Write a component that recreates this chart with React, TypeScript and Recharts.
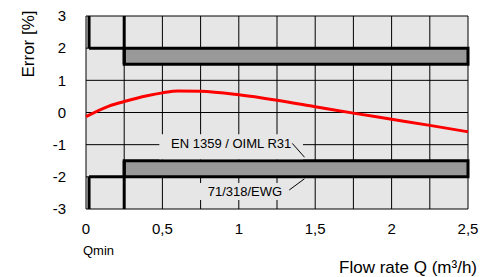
import React from "react";
import {
  ComposedChart,
  Line,
  XAxis,
  YAxis,
  CartesianGrid,
  ReferenceArea,
  ReferenceLine,
  ReferenceDot,
} from "recharts";

// measured meter error curve
const flowRate = [0, 0.15, 0.25, 0.4, 0.5, 0.6, 0.75, 1, 1.25, 1.5, 1.75, 2, 2.25, 2.5];
const errorPct = [-0.13, 0.2, 0.34, 0.52, 0.61, 0.67, 0.66, 0.55, 0.38, 0.18, -0.02, -0.21, -0.4, -0.6];

// axes
const xTicks = [0, 0.25, 0.5, 0.75, 1, 1.25, 1.5, 1.75, 2, 2.25, 2.5];
const xLabelTicks = [0, 0.5, 1, 1.5, 2, 2.5];
const yTicks = [-3, -2, -1, 0, 1, 2, 3];

// tolerance limits
const qMinOld = 0.02;
const qMinNew = 0.25;
const upperBand = [1.5, 2];
const lowerBand = [-2, -1.5];

const data = flowRate.map((q, i) => ({ q, err: errorPct[i] }));

const FONT = "'Liberation Sans', Arial, Helvetica, sans-serif";
const PLOT_BG = "#e6e6e6";

const fmt = (v: number) => String(v).replace(".", ",");

const XTick = (props: any) => {
  const { x, y, payload } = props;
  const v = payload.value;
  if (!xLabelTicks.includes(v)) return null;
  return (
    <g>
      <text x={x} y={y + 25} textAnchor="middle" fontSize={15} fill="#000" fontFamily={FONT}>
        {fmt(v)}
      </text>
      {v === 0 && (
        <text x={x - 3} y={y + 46} textAnchor="start" fontSize={13} fill="#000" fontFamily={FONT}>
          Qmin
        </text>
      )}
    </g>
  );
};

export default function App() {
  return (
    <div style={{ position: "absolute", left: 0, top: 0, background: "#fff", fontFamily: FONT }}>
      <ComposedChart
        width={491}
        height={277}
        data={data}
        margin={{ top: 16, right: 23, bottom: 0, left: 0 }}
      >
        <CartesianGrid stroke="#000" strokeWidth={1} fill={PLOT_BG} fillOpacity={1} />
        <XAxis
          dataKey="q"
          type="number"
          domain={[0, 2.5]}
          ticks={xTicks}
          interval={0}
          height={68}
          axisLine={false}
          tickLine={false}
          tickSize={0}
          tickMargin={0}
          tick={<XTick />}
          label={{
            content: () => (
              <text x={477} y={273} textAnchor="end" fontSize={17} fill="#000" fontFamily={FONT}>
                Flow rate Q (m³/h)
              </text>
            ),
          }}
        />
        <YAxis
          type="number"
          domain={[-3, 3]}
          ticks={yTicks}
          interval={0}
          width={86}
          axisLine={false}
          tickLine={false}
          tickSize={0}
          tickMargin={20}
          tick={{ fill: "#000", fontSize: 15, fontFamily: FONT }}
          label={{
            content: () => (
              <text
                x={28}
                y={44}
                transform="rotate(-90 28 44)"
                textAnchor="middle"
                dominantBaseline="central"
                fontSize={17}
                fill="#000"
                fontFamily={FONT}
              >
                Error [%]
              </text>
            ),
          }}
        />

        {/* tolerance bands */}
        <ReferenceArea
          x1={qMinNew}
          x2={2.5}
          y1={upperBand[0]}
          y2={upperBand[1]}
          fill="#999999"
          fillOpacity={1}
          stroke="#000"
          strokeWidth={3}
        />
        <ReferenceArea
          x1={qMinNew}
          x2={2.5}
          y1={lowerBand[0]}
          y2={lowerBand[1]}
          fill="#999999"
          fillOpacity={1}
          stroke="#000"
          strokeWidth={3}
        />

        {/* old limits (71/318/EWG) and Qmin step */}
        <ReferenceLine segment={[{ x: qMinOld, y: 3 }, { x: qMinOld, y: 2 }]} stroke="#000" strokeWidth={3} />
        <ReferenceLine segment={[{ x: qMinOld, y: 2 }, { x: qMinNew, y: 2 }]} stroke="#000" strokeWidth={3} />
        <ReferenceLine segment={[{ x: qMinNew, y: 3 }, { x: qMinNew, y: 1.5 }]} stroke="#000" strokeWidth={3} />
        <ReferenceLine segment={[{ x: qMinOld, y: -3 }, { x: qMinOld, y: -2 }]} stroke="#000" strokeWidth={3} />
        <ReferenceLine segment={[{ x: qMinOld, y: -2 }, { x: qMinNew, y: -2 }]} stroke="#000" strokeWidth={3} />
        <ReferenceLine segment={[{ x: qMinNew, y: -3 }, { x: qMinNew, y: -1.5 }]} stroke="#000" strokeWidth={3} />

        {/* annotation backgrounds */}
        <ReferenceArea x1={0.48} x2={1.42} y1={-1.45} y2={-0.68} fill={PLOT_BG} fillOpacity={1} stroke="none" />
        <ReferenceArea x1={0.74} x2={1.32} y1={-2.72} y2={-2.19} fill={PLOT_BG} fillOpacity={1} stroke="none" />

        {/* leader lines */}
        <ReferenceLine segment={[{ x: 1.35, y: -0.96 }, { x: 1.43, y: -1.39 }]} stroke="#000" strokeWidth={1} />
        <ReferenceLine segment={[{ x: 1.33, y: -2.41 }, { x: 1.43, y: -2.06 }]} stroke="#000" strokeWidth={1} />

        <ReferenceDot
          x={0.95}
          y={-0.96}
          r={0}
          fill="none"
          stroke="none"
          label={{ value: "EN 1359 / OIML R31", position: "center", fill: "#000", fontSize: 13, fontFamily: FONT }}
        />
        <ReferenceDot
          x={1.04}
          y={-2.44}
          r={0}
          fill="none"
          stroke="none"
          label={{ value: "71/318/EWG", position: "center", fill: "#000", fontSize: 13, fontFamily: FONT }}
        />

        <Line
          type="monotone"
          dataKey="err"
          stroke="#ff0000"
          strokeWidth={3}
          dot={false}
          activeDot={false}
          isAnimationActive={false}
        />
      </ComposedChart>
    </div>
  );
}
